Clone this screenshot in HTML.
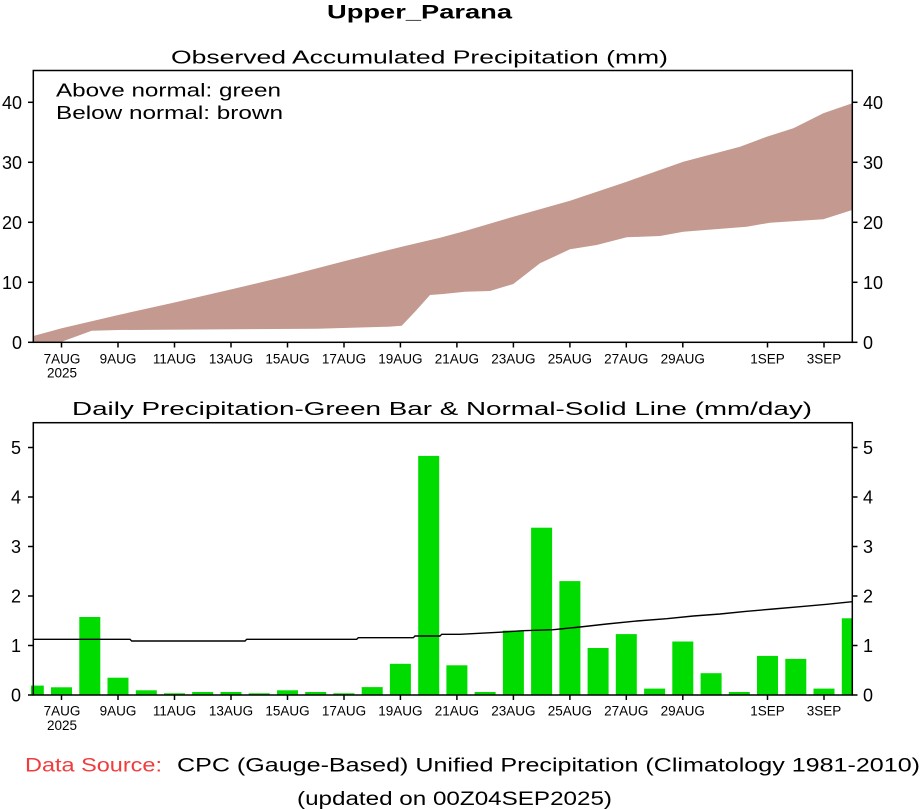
<!DOCTYPE html>
<html>
<head>
<meta charset="utf-8">
<style>
  html,body{margin:0;padding:0;background:#fff;}
  svg{display:block;}
  text{font-family:"Liberation Sans",sans-serif;fill:#000;}
</style>
</head>
<body>
<svg width="922" height="809" viewBox="0 0 922 809" xmlns="http://www.w3.org/2000/svg">
  <rect width="922" height="809" fill="#fff"/>
  <defs>
    <clipPath id="c1"><rect x="33.3" y="70.5" width="819" height="272"/></clipPath>
    <clipPath id="c2"><rect x="31" y="422.7" width="821.3" height="272.5"/></clipPath>
  </defs>

  <!-- Title -->
  <text x="327" y="18.5" font-size="19" font-weight="bold" textLength="185" lengthAdjust="spacingAndGlyphs">Upper_Parana</text>
  <text x="171" y="63.5" font-size="18" textLength="497" lengthAdjust="spacingAndGlyphs">Observed Accumulated Precipitation (mm)</text>

  <!-- TOP PANEL -->
  <g clip-path="url(#c1)">
    <polygon fill="#c49a90" points="33.3,336 61.7,328.3 118.3,315 173.3,302.7 231.7,289.3 288.3,275.7 345,261 401.7,246.7 440,237.7 465,231 513.3,216.7 570,200.7 626.7,181.7 683.3,161.7 740,146.7 766.7,136.7 793.3,128.3 823.3,113.3 852.3,103.3 852.3,210 823.3,219.3 770,222.7 746.7,226.7 683.3,231.7 660,236 626.7,237.3 596.7,245 570,249.3 540,263.3 513.3,284 490,291 465,291.7 443.3,294 430,295 415,311.7 401.7,325.7 388.3,326.7 316.7,328.7 118.3,330 91.7,330.7 61.7,341.7 33.3,342.3"/>
  </g>
  <rect x="33.3" y="70.5" width="819" height="271.8" fill="none" stroke="#000" stroke-width="1.5"/>
  <text x="56" y="96.5" font-size="18" textLength="225" lengthAdjust="spacingAndGlyphs">Above normal: green</text>
  <text x="56" y="119" font-size="18" textLength="227" lengthAdjust="spacingAndGlyphs">Below normal: brown</text>

  <!-- top y ticks -->
  <g stroke="#000" stroke-width="1.5">
    <line x1="28" y1="342.3" x2="33.3" y2="342.3"/>
    <line x1="28" y1="282.3" x2="33.3" y2="282.3"/>
    <line x1="28" y1="222.3" x2="33.3" y2="222.3"/>
    <line x1="28" y1="162.3" x2="33.3" y2="162.3"/>
    <line x1="28" y1="102.3" x2="33.3" y2="102.3"/>
    <line x1="852.3" y1="342.3" x2="857.5" y2="342.3"/>
    <line x1="852.3" y1="282.3" x2="857.5" y2="282.3"/>
    <line x1="852.3" y1="222.3" x2="857.5" y2="222.3"/>
    <line x1="852.3" y1="162.3" x2="857.5" y2="162.3"/>
    <line x1="852.3" y1="102.3" x2="857.5" y2="102.3"/>
  </g>
  <g font-size="18" text-anchor="end">
    <text x="22" y="349">0</text>
    <text x="22" y="289">10</text>
    <text x="22" y="229">20</text>
    <text x="22" y="169">30</text>
    <text x="22" y="109">40</text>
  </g>
  <g font-size="18">
    <text x="863" y="349">0</text>
    <text x="863" y="289">10</text>
    <text x="863" y="229">20</text>
    <text x="863" y="169">30</text>
    <text x="863" y="109">40</text>
  </g>
  <!-- top x ticks -->
  <g stroke="#000" stroke-width="1.5">
    <line x1="61.5" y1="342.3" x2="61.5" y2="347.5"/>
    <line x1="118" y1="342.3" x2="118" y2="347.5"/>
    <line x1="174.5" y1="342.3" x2="174.5" y2="347.5"/>
    <line x1="231" y1="342.3" x2="231" y2="347.5"/>
    <line x1="287.5" y1="342.3" x2="287.5" y2="347.5"/>
    <line x1="344" y1="342.3" x2="344" y2="347.5"/>
    <line x1="400.4" y1="342.3" x2="400.4" y2="347.5"/>
    <line x1="456.9" y1="342.3" x2="456.9" y2="347.5"/>
    <line x1="513.4" y1="342.3" x2="513.4" y2="347.5"/>
    <line x1="569.9" y1="342.3" x2="569.9" y2="347.5"/>
    <line x1="626.3" y1="342.3" x2="626.3" y2="347.5"/>
    <line x1="682.8" y1="342.3" x2="682.8" y2="347.5"/>
    <line x1="767.5" y1="342.3" x2="767.5" y2="347.5"/>
    <line x1="824" y1="342.3" x2="824" y2="347.5"/>
  </g>
  <g font-size="13.5" text-anchor="middle">
    <text x="62" y="363.5">7AUG</text>
    <text x="62" y="377.7">2025</text>
    <text x="118" y="363.5">9AUG</text>
    <text x="174.5" y="363.5">11AUG</text>
    <text x="231" y="363.5">13AUG</text>
    <text x="287.5" y="363.5">15AUG</text>
    <text x="344" y="363.5">17AUG</text>
    <text x="400.4" y="363.5">19AUG</text>
    <text x="456.9" y="363.5">21AUG</text>
    <text x="513.4" y="363.5">23AUG</text>
    <text x="569.9" y="363.5">25AUG</text>
    <text x="626.3" y="363.5">27AUG</text>
    <text x="682.8" y="363.5">29AUG</text>
    <text x="767.5" y="363.5">1SEP</text>
    <text x="824" y="363.5">3SEP</text>
  </g>

  <!-- BOTTOM PANEL -->
  <text x="72" y="415" font-size="18" textLength="740" lengthAdjust="spacingAndGlyphs">Daily Precipitation-Green Bar &amp; Normal-Solid Line (mm/day)</text>
  <g clip-path="url(#c2)" fill="#00dc00">
    <rect x="31" y="685.6" width="12.8" height="9.4"/>
    <rect x="51.0" y="687.3" width="21" height="7.7"/>
    <rect x="79.3" y="617.0" width="21" height="78"/>
    <rect x="107.5" y="677.7" width="21" height="17.3"/>
    <rect x="135.8" y="690.3" width="21" height="4.7"/>
    <rect x="164.0" y="693.3" width="21" height="1.7"/>
    <rect x="192.2" y="692" width="21" height="3"/>
    <rect x="220.5" y="692" width="21" height="3"/>
    <rect x="248.7" y="693.3" width="21" height="1.7"/>
    <rect x="277.0" y="690.3" width="21" height="4.7"/>
    <rect x="305.2" y="692" width="21" height="3"/>
    <rect x="333.4" y="693.3" width="21" height="1.7"/>
    <rect x="361.7" y="687.1" width="21" height="7.9"/>
    <rect x="389.9" y="663.8" width="21" height="31.2"/>
    <rect x="418.2" y="455.9" width="21" height="239.1"/>
    <rect x="446.4" y="665.3" width="21" height="29.7"/>
    <rect x="474.6" y="692" width="21" height="3"/>
    <rect x="502.9" y="630.6" width="21" height="64.4"/>
    <rect x="531.1" y="527.7" width="21" height="167.3"/>
    <rect x="559.4" y="581.1" width="21" height="113.9"/>
    <rect x="587.6" y="648" width="21" height="47"/>
    <rect x="615.8" y="634.1" width="21" height="60.9"/>
    <rect x="644.1" y="688.6" width="21" height="6.4"/>
    <rect x="672.3" y="641.5" width="21" height="53.5"/>
    <rect x="700.6" y="673.2" width="21" height="21.8"/>
    <rect x="728.8" y="692" width="21" height="3"/>
    <rect x="757.0" y="655.9" width="21" height="39.1"/>
    <rect x="785.3" y="658.9" width="21" height="36.1"/>
    <rect x="813.5" y="688.6" width="21" height="6.4"/>
    <rect x="841.8" y="618.3" width="10.5" height="76.7"/>
  </g>
  <polyline fill="none" stroke="#000" stroke-width="1.4" points="33.3,639.3 130,639.3 131.7,641 245,641 246.7,639.3 356.7,639.3 358.3,637.7 413.3,637.7 415,636 440,636 441.7,634.3 460,634.3 498.3,632.3 523.3,630.7 553.3,629.7 580,627 606.7,624 636.7,621 666.7,618.7 693.3,616 720,614 746.7,611.3 773.3,609 800,606.7 826.7,604.3 852.3,601.7"/>
  <rect x="33.3" y="422.7" width="819" height="272.3" fill="none" stroke="#000" stroke-width="1.5"/>

  <!-- bottom y ticks -->
  <g stroke="#000" stroke-width="1.5">
    <line x1="28" y1="695" x2="33.3" y2="695"/>
    <line x1="28" y1="645.5" x2="33.3" y2="645.5"/>
    <line x1="28" y1="596" x2="33.3" y2="596"/>
    <line x1="28" y1="546.5" x2="33.3" y2="546.5"/>
    <line x1="28" y1="497" x2="33.3" y2="497"/>
    <line x1="28" y1="447.5" x2="33.3" y2="447.5"/>
    <line x1="852.3" y1="695" x2="857.5" y2="695"/>
    <line x1="852.3" y1="645.5" x2="857.5" y2="645.5"/>
    <line x1="852.3" y1="596" x2="857.5" y2="596"/>
    <line x1="852.3" y1="546.5" x2="857.5" y2="546.5"/>
    <line x1="852.3" y1="497" x2="857.5" y2="497"/>
    <line x1="852.3" y1="447.5" x2="857.5" y2="447.5"/>
  </g>
  <g font-size="18" text-anchor="end">
    <text x="21" y="701.5">0</text>
    <text x="21" y="652">1</text>
    <text x="21" y="602.5">2</text>
    <text x="21" y="553">3</text>
    <text x="21" y="503.5">4</text>
    <text x="21" y="454">5</text>
  </g>
  <g font-size="18">
    <text x="863" y="701.5">0</text>
    <text x="863" y="652">1</text>
    <text x="863" y="602.5">2</text>
    <text x="863" y="553">3</text>
    <text x="863" y="503.5">4</text>
    <text x="863" y="454">5</text>
  </g>
  <!-- bottom x ticks -->
  <g stroke="#000" stroke-width="1.5">
    <line x1="61.5" y1="695" x2="61.5" y2="700"/>
    <line x1="118" y1="695" x2="118" y2="700"/>
    <line x1="174.5" y1="695" x2="174.5" y2="700"/>
    <line x1="231" y1="695" x2="231" y2="700"/>
    <line x1="287.5" y1="695" x2="287.5" y2="700"/>
    <line x1="344" y1="695" x2="344" y2="700"/>
    <line x1="400.4" y1="695" x2="400.4" y2="700"/>
    <line x1="456.9" y1="695" x2="456.9" y2="700"/>
    <line x1="513.4" y1="695" x2="513.4" y2="700"/>
    <line x1="569.9" y1="695" x2="569.9" y2="700"/>
    <line x1="626.3" y1="695" x2="626.3" y2="700"/>
    <line x1="682.8" y1="695" x2="682.8" y2="700"/>
    <line x1="767.5" y1="695" x2="767.5" y2="700"/>
    <line x1="824" y1="695" x2="824" y2="700"/>
  </g>
  <g font-size="13.5" text-anchor="middle">
    <text x="62" y="715.5">7AUG</text>
    <text x="62" y="730">2025</text>
    <text x="118" y="715.5">9AUG</text>
    <text x="174.5" y="715.5">11AUG</text>
    <text x="231" y="715.5">13AUG</text>
    <text x="287.5" y="715.5">15AUG</text>
    <text x="344" y="715.5">17AUG</text>
    <text x="400.4" y="715.5">19AUG</text>
    <text x="456.9" y="715.5">21AUG</text>
    <text x="513.4" y="715.5">23AUG</text>
    <text x="569.9" y="715.5">25AUG</text>
    <text x="626.3" y="715.5">27AUG</text>
    <text x="682.8" y="715.5">29AUG</text>
    <text x="767.5" y="715.5">1SEP</text>
    <text x="824" y="715.5">3SEP</text>
  </g>

  <!-- Footer -->
  <text x="25" y="771.5" font-size="19" style="fill:#f03c3c" textLength="137" lengthAdjust="spacingAndGlyphs">Data Source:</text>
  <text x="177" y="771.5" font-size="19" textLength="743" lengthAdjust="spacingAndGlyphs">CPC (Gauge-Based) Unified Precipitation (Climatology 1981-2010)</text>
  <text x="297" y="805" font-size="19" textLength="315" lengthAdjust="spacingAndGlyphs">(updated on 00Z04SEP2025)</text>
</svg>
</body>
</html>
